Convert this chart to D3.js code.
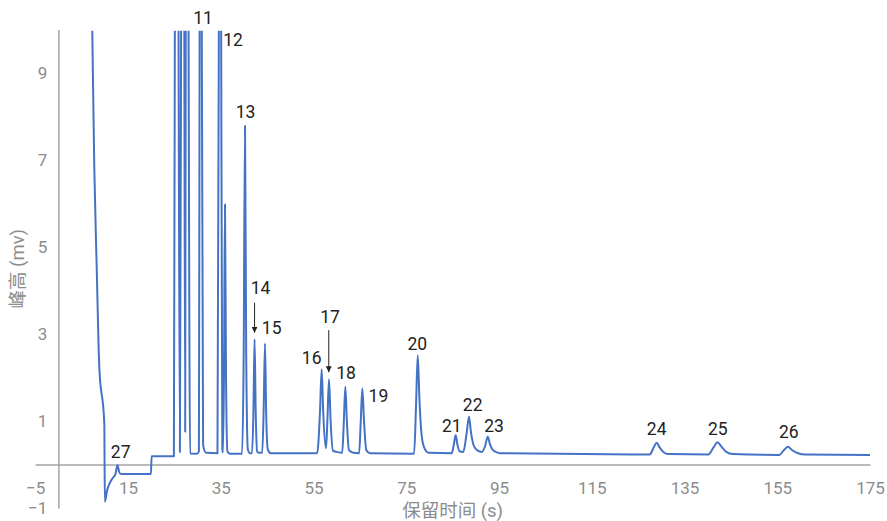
<!DOCTYPE html>
<html>
<head>
<meta charset="utf-8">
<script src="https://cdn.jsdelivr.net/npm/d3@7"></script>
<style>
  body { margin: 0; background: #fff; }
  svg text { font-family: Roboto, "Noto Sans CJK SC", sans-serif; }
</style>
</head>
<body>
<div id="chart"></div>
<script>
const width = 887,
  height = 521;

// retention time (s) and peak height (mv)
const rt = [
  7.0, 7.31, 7.74, 8.26, 8.82, 9.9, 10.02, 10.5, 11.1, 11.8, 12.3, 12.75, 13.1, 13.5, 19.95, 20.1, 24.9,
  25.18, 25.5, 25.8, 26.2, 26.55, 26.82, 27.08, 27.34, 27.5, 27.69, 27.95, 28.4, 29.9,
  30.3, 30.45, 30.68, 30.92, 31.2, 31.8, 34.3,
  34.6, 34.85, 35.1, 35.35, 35.5, 35.7, 35.92, 36.15, 36.45, 37.0, 39.6,
  39.95, 40.24, 40.5, 40.85, 41.3, 41.75,
  42.05, 42.3, 42.55, 42.85, 43.2, 43.95,
  44.25, 44.55, 44.8, 45.15, 45.8, 55.8,
  56.4, 56.77, 57.1, 57.7, 58.0, 58.35, 58.7, 59.2, 60.0,
  61.2, 61.55, 61.87, 62.2, 62.65, 63.6,
  64.85, 65.2, 65.54, 65.9, 66.4, 67.2, 76.7,
  77.1, 77.48, 77.85, 78.3, 78.9, 79.8, 84.8,
  85.25, 85.66, 86.05, 86.6, 87.3, 88.0, 88.54, 88.95, 89.6, 90.4, 91.28,
  92.0, 92.57, 93.1, 93.8, 95.2, 127.5,
  128.4, 129.0, 129.6, 130.5, 131.5, 140.1,
  141.3, 142.1, 142.9, 144.0, 145.5, 155.4,
  156.5, 157.3, 158.1, 159.5, 161.0, 175.0
];
const mv = [
  12, 9.96, 6.84, 4.54, 2.24, 0.95, -0.86, -0.6, -0.42, -0.3, -0.22, -0.02, -0.17, -0.22, -0.22, 0.19, 0.19,
  14, 20, 14, 0.28, 14, 20, 14, 0.75, 14, 20, 14, 0.25, 0.25,
  0.3, 10, 25, 10, 0.45, 0.27, 0.26,
  10, 25, 10, 0.35, 0.28, 2, 5.98, 2, 0.3, 0.25, 0.25,
  2.5, 7.79, 2.5, 0.35, 0.26, 0.26,
  1.2, 2.88, 1.2, 0.3, 0.27, 0.27,
  1.2, 2.78, 1.2, 0.35, 0.26, 0.26,
  1.2, 2.19, 1.2, 0.37, 1.0, 1.96, 1.0, 0.32, 0.29,
  0.27, 1.0, 1.79, 1.0, 0.33, 0.27,
  0.26, 1.0, 1.75, 1.0, 0.33, 0.26, 0.25,
  1.3, 2.51, 1.5, 0.7, 0.38, 0.27, 0.26,
  0.45, 0.68, 0.45, 0.3, 0.29, 0.7, 1.10, 0.75, 0.42, 0.32, 0.29,
  0.42, 0.64, 0.45, 0.32, 0.26, 0.23,
  0.4, 0.5, 0.4, 0.28, 0.24, 0.23,
  0.4, 0.51, 0.42, 0.29, 0.24, 0.22,
  0.34, 0.41, 0.34, 0.26, 0.23, 0.216
];

// peak numbers and where they sit
const peakNames = ["11", "12", "13", "14", "15", "16", "17", "18", "19", "20", "21", "22", "23", "24", "25", "26", "27"];
const peakX = [31.18, 37.65, 40.35, 43.6, 45.99, 54.62, 58.57, 62.02, 69.0, 77.39, 84.81, 89.33, 93.93, 129.0, 142.2, 157.5, 13.43];
const peakY = [10.26, 9.76, 8.1, 4.05, 3.14, 2.44, 3.38, 2.1, 1.57, 2.77, 0.88, 1.36, 0.88, 0.81, 0.81, 0.75, 0.28];

// arrows pointing at peaks 14 and 17: [x, from y, to y]
const arrows = [[42.3, 3.72, 3.03], [58.3, 3.09, 2.12]];

const xTicks = [-5, 15, 35, 55, 75, 95, 115, 135, 155, 175];
const yTicks = [-1, 1, 3, 5, 7, 9];

const x = d3.scaleLinear().domain([-5, 175]).range([35.2, 870]);
const y = d3.scaleLinear().domain([-1, 10]).range([508, 29.5]);

const svg = d3.select("#chart")
  .append("svg")
  .attr("width", width)
  .attr("height", height);

svg.append("defs")
  .append("clipPath")
  .attr("id", "plot")
  .append("rect")
  .attr("x", x(-5))
  .attr("y", y(9.97))
  .attr("width", x(175) - x(-5))
  .attr("height", y(-1) - y(9.97));

// x axis sits on y = 0
const xAxis = svg.append("g")
  .attr("transform", `translate(0,${y(0)})`)
  .call(d3.axisBottom(x).tickValues(xTicks).tickSize(0).tickPadding(17).tickFormat(d3.format("d")));

// y axis sits on x = 0
const yAxis = svg.append("g")
  .attr("transform", `translate(${x(0)},0)`)
  .call(d3.axisLeft(y).tickValues(yTicks).tickSize(0).tickPadding(11).tickFormat(d3.format("d")));

[xAxis, yAxis].forEach(g => {
  g.select(".domain").attr("stroke", "#a3a3a3").attr("stroke-width", 1.5);
  g.selectAll("text")
    .attr("fill", "#8c8c8c")
    .style("font-size", "17px");
});

const points = rt.map((t, i) => [t, mv[i]]);

const line = d3.line()
  .x(d => x(d[0]))
  .y(d => y(d[1]))
  .curve(d3.curveMonotoneX);

svg.append("path")
  .datum(points)
  .attr("clip-path", "url(#plot)")
  .attr("fill", "none")
  .attr("stroke", "#4472c4")
  .attr("stroke-width", 2)
  .attr("stroke-linejoin", "round")
  .attr("d", line);

svg.append("g")
  .selectAll("text")
  .data(peakNames)
  .join("text")
  .attr("x", (d, i) => x(peakX[i]))
  .attr("y", (d, i) => y(peakY[i]))
  .attr("text-anchor", "middle")
  .attr("dominant-baseline", "central")
  .attr("fill", "#222")
  .style("font-size", "17.5px")
  .text(d => d);

svg.append("defs")
  .append("marker")
  .attr("id", "head")
  .attr("viewBox", "0 0 10 10")
  .attr("refX", 10)
  .attr("refY", 5)
  .attr("markerWidth", 6)
  .attr("markerHeight", 8)
  .attr("markerUnits", "userSpaceOnUse")
  .attr("orient", "auto")
  .append("path")
  .attr("d", "M0,0L10,5L0,10z")
  .attr("fill", "#222");

svg.append("g")
  .selectAll("line")
  .data(arrows)
  .join("line")
  .attr("x1", d => x(d[0]))
  .attr("x2", d => x(d[0]))
  .attr("y1", d => y(d[1]))
  .attr("y2", d => y(d[2]))
  .attr("stroke", "#222")
  .attr("stroke-width", 1)
  .attr("marker-end", "url(#head)");

// axis titles
svg.append("text")
  .attr("x", (x(-5) + x(175)) / 2)
  .attr("y", 511)
  .attr("text-anchor", "middle")
  .attr("dominant-baseline", "central")
  .attr("fill", "#8c8c8c")
  .style("font-size", "18.5px")
  .text("保留时间 (s)");

svg.append("text")
  .attr("transform", `translate(18,${(y(-1) + y(10)) / 2}) rotate(-90)`)
  .attr("text-anchor", "middle")
  .attr("dominant-baseline", "central")
  .attr("fill", "#8c8c8c")
  .style("font-size", "18.5px")
  .text("峰高 (mv)");
</script>
</body>
</html>
